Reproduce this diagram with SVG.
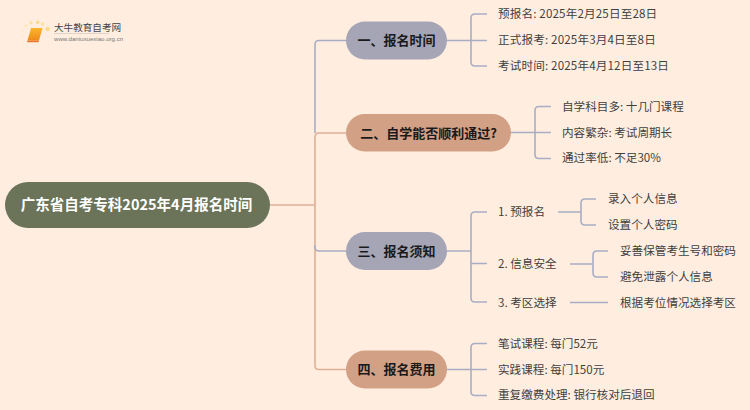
<svg xmlns="http://www.w3.org/2000/svg" width="750" height="410" viewBox="0 0 750 410">
<defs><linearGradient id="b" x1="0" y1="0" x2="0" y2="1"><stop offset="0" stop-color="#fbb62c"/><stop offset="1" stop-color="#ef8a1c"/></linearGradient></defs>
<style>
text{font-family:"Noto Sans CJK SC","Liberation Sans",sans-serif}
.c{fill:none;stroke-width:1.6}
.g{stroke:#a9adc4}
.t{stroke:#dfaf95}
.l{font-size:11.600px;fill:#3f3f3f}
.d{letter-spacing:.15px}
.h{font-size:13px;font-weight:700;fill:#1a1a1a;text-anchor:middle}
</style>
<rect width="750" height="410" fill="#ffeee0"/>
<g id="logo">
<circle cx="47.600" cy="29" r="2.200" fill="#fdd98a"/><circle cx="42.700" cy="24" r="1.800" fill="#fde0a0"/><circle cx="37.700" cy="22.300" r="1.800" fill="#fdd98a"/><circle cx="31" cy="22.700" r="1.700" fill="#fde0a0"/><circle cx="26" cy="25.700" r="1.500" fill="#fde6b5"/><circle cx="22.700" cy="30.700" r="1.300" fill="#fdeacb"/><circle cx="22.700" cy="36.700" r="1.200" fill="#fdeacb"/><circle cx="23.300" cy="42" r="1" fill="#fdeacb"/>
<path d="M31 28h11.500l-3.500 12.500h-11.500z" fill="url(#b)"/><path d="M27.500 40.500h11.500l-.5 1.700h-11.500z" fill="#e9772a"/>
<text x="54" y="30.500" font-size="9.600" fill="#444">大牛教育自考网</text>
<rect x="54" y="33" width="55" height="1" fill="#ddd5cc"/>
<text x="54" y="41" font-size="6.100" fill="#777" style="font-family:'Liberation Sans',sans-serif">www.daniuxuexiao.org.cn</text>
</g>
<g id="connectors">
<path class="c t" d="M270 205H315M315 205V137Q315 133 319 133H346M315 205V365.500Q315 369.500 319 369.500H346"/>
<path class="c g" d="M346 40.500H319Q315 40.500 315 44.500V133"/>
<path class="c g" d="M346 251H319Q315 251 315 247V245"/>
<path class="c g" d="M447 40.500H471M487 14H475Q471 14 471 18V62Q471 66 475 66H487M471 40.500H487"/>
<path class="c g" d="M511 132.500H535M551 106.500H539Q535 106.500 535 110.500V154.500Q535 158.500 539 158.500H551M535 132.500H551"/>
<path class="c g" d="M447 251H471M487 212H475Q471 212 471 216V298Q471 302 475 302H487M471 263.500H487"/>
<path class="c g" d="M447 369.500H471M487 343.500H475Q471 343.500 471 347.500V391.500Q471 395.500 475 395.500H487M471 369.500H487"/>
<path class="c g" d="M558 212H581M596 199H585Q581 199 581 203V221Q581 225 585 225H596"/>
<path class="c g" d="M570 264H593M608 251H597Q593 251 593 255V273Q593 277 597 277H608"/>
<path class="c g" d="M570 302.500H608"/>
</g>
<g id="root"><rect x="5" y="182" width="265" height="46" rx="23" fill="#6b7359"/><text x="136.500" y="209.500" font-size="14.500" font-weight="700" fill="#fff" text-anchor="middle">广东省自考专科2025年4月报名时间</text></g>
<g id="n1"><rect x="346" y="21.500" width="101" height="38" rx="19" fill="#a5a5b6"/><text class="h" x="396.500" y="45">一、报名时间</text></g>
<g id="n2"><rect x="346" y="114" width="165" height="37.500" rx="18.700" fill="#d2a085"/><text class="h" x="428.500" y="137.500">二、自学能否顺利通过?</text></g>
<g id="n3"><rect x="346" y="232" width="101" height="38" rx="19" fill="#a5a5b6"/><text class="h" x="396.500" y="255.500">三、报名须知</text></g>
<g id="n4"><rect x="346" y="350.500" width="101" height="38" rx="19" fill="#d2a085"/><text class="h" x="396.500" y="374">四、报名费用</text></g>
<g id="l1"><text class="l d" x="498" y="18">预报名: 2025年2月25日至28日</text></g>
<g id="l2"><text class="l d" x="498" y="44">正式报考: 2025年3月4日至8日</text></g>
<g id="l3"><text class="l d" x="498" y="70">考试时间: 2025年4月12日至13日</text></g>
<g id="l4"><text class="l" x="562" y="110.500">自学科目多: 十几门课程</text></g>
<g id="l5"><text class="l" x="562" y="136.500">内容繁杂: 考试周期长</text></g>
<g id="l6"><text class="l" x="562" y="162">通过率低: 不足30%</text></g>
<g id="l7"><text class="l" x="498" y="216">1. 预报名</text></g>
<g id="l8"><text class="l" x="608" y="203">录入个人信息</text></g>
<g id="l9"><text class="l" x="608" y="229">设置个人密码</text></g>
<g id="l10"><text class="l" x="498" y="268">2. 信息安全</text></g>
<g id="l11"><text class="l" x="620" y="255">妥善保管考生号和密码</text></g>
<g id="l12"><text class="l" x="620" y="281">避免泄露个人信息</text></g>
<g id="l13"><text class="l" x="498" y="306.500">3. 考区选择</text></g>
<g id="l14"><text class="l" x="620" y="306.500">根据考位情况选择考区</text></g>
<g id="l15"><text class="l" x="498" y="347.500">笔试课程: 每门52元</text></g>
<g id="l16"><text class="l" x="498" y="373.500">实践课程: 每门150元</text></g>
<g id="l17"><text class="l" x="498" y="399">重复缴费处理: 银行核对后退回</text></g>
</svg>
